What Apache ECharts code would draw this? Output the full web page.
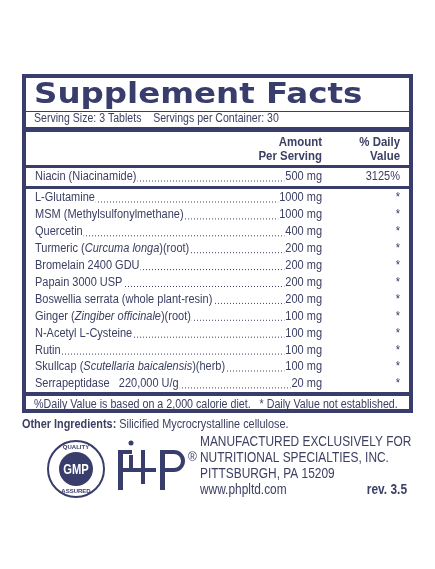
<!DOCTYPE html>
<html><head><meta charset="utf-8">
<script src="https://cdn.jsdelivr.net/npm/echarts@6/dist/echarts.min.js"></script>
<style>html,body{margin:0;background:#fff}#main{width:435px;height:569px}</style>
</head><body><div id="main"></div>
<script>
// ingredient rows (rich text: {i|...} = italic)
const names = [
  'L-Glutamine',
  'MSM (Methylsulfonylmethane)',
  'Quercetin',
  'Turmeric ({i|Curcuma longa})(root)',
  'Bromelain 2400 GDU',
  'Papain 3000 USP',
  'Boswellia serrata (whole plant-resin)',
  'Ginger ({i|Zingiber officinale})(root)',
  'N-Acetyl L-Cysteine',
  'Rutin',
  'Skullcap ({i|Scutellaria baicalensis})(herb)',
  'Serrapeptidase   220,000 U/g'
];
const amounts = ['1000 mg','1000 mg','400 mg','200 mg','200 mg','200 mg','200 mg','100 mg','100 mg','100 mg','100 mg','20 mg'];
const dailyValues = ['*','*','*','*','*','*','*','*','*','*','*','*'];
const topName = 'Niacin (Niacinamide)', topAmount = '500 mg', topDV = '3125%';

const NAVY = '#383d6b', TXT = '#3c4063';
const F = '"Liberation Sans", Arial, sans-serif';
const FS = '12.5px ';
const SX = 0.88; // condensed look
const chart = echarts.init(document.getElementById('main'), null, {renderer: 'canvas'});
const g = [];
const txt = (x, y, s, o, sx) => g.push({type: 'text', x, y, z: 5, scaleX: sx || SX, style: Object.assign({text: s, fill: TXT, font: FS + F, verticalAlign: 'middle'}, o || {})});
const rect = (x, y, w, h, c) => g.push({type: 'rect', shape: {x, y, width: w, height: h}, style: {fill: c || NAVY}, z: 3});
const L = 35, AR = 322, DR = 400;
function row(y, name, amt, dv) {
  g.push({type: 'line', z: 2, shape: {x1: L, y1: y + 4, x2: AR - 4, y2: y + 4}, style: {stroke: TXT, lineWidth: 1, lineDash: [1, 2]}});
  g.push({type: 'text', x: L, y, z: 5, scaleX: SX, style: {text: name, fill: TXT, font: FS + F, verticalAlign: 'middle', backgroundColor: '#fff', padding: [0, 1, 0, 0],
    rich: {i: {fontStyle: 'italic', fontSize: 12.5, fontFamily: F, fill: TXT}}}});
  txt(AR, y, amt, {align: 'right', backgroundColor: '#fff', padding: [0, 0, 0, 1]});
  txt(DR, y, dv, {align: 'right'});
}
// box
g.push({type: 'rect', z: 4, shape: {x: 24, y: 76, width: 387, height: 335}, style: {fill: 'none', stroke: NAVY, lineWidth: 4}});
txt(34, 96, 'Supplement Facts', {font: 'bold 28px "DejaVu Sans", Arial, sans-serif', fill: NAVY, letterSpacing: 1.5}, 1.16);
rect(24, 111, 387, 1);
txt(34, 119, 'Serving Size: 3 Tablets    Servings per Container: 30', {font: '12px ' + F});
rect(24, 127, 387, 5);
txt(AR, 142, 'Amount', {align: 'right', font: 'bold 13px ' + F});
txt(AR, 156, 'Per Serving', {align: 'right', font: 'bold 13px ' + F});
txt(DR, 142, '% Daily', {align: 'right', font: 'bold 13px ' + F});
txt(DR, 156, 'Value', {align: 'right', font: 'bold 13px ' + F});
rect(24, 165, 387, 3);
row(177, topName, topAmount, topDV);
rect(24, 186, 387, 3);
names.forEach((n, i) => row(198 + i * 16.9, n, amounts[i], dailyValues[i]));
rect(24, 392, 387, 4);
txt(34, 405, '%Daily Value is based on a 2,000 calorie diet.   * Daily Value not established.', {font: '12.5px ' + F}, 0.855);
txt(22, 425, '', {text: '{b|Other Ingredients:} Silicified Mycrocrystalline cellulose.', font: '12.5px ' + F,
  rich: {b: {fontWeight: 'bold', fontSize: 12.5, fontFamily: F, fill: TXT}}}, 0.87);
// GMP seal
g.push({type: 'circle', shape: {cx: 76, cy: 469, r: 28}, style: {fill: '#fff', stroke: NAVY, lineWidth: 2}});
g.push({type: 'circle', shape: {cx: 76, cy: 469, r: 17}, style: {fill: NAVY}});
txt(76, 470, 'GMP', {align: 'center', fill: '#fff', font: 'bold 14px ' + F}, 0.8);
txt(76, 447, 'QUALITY', {align: 'center', font: 'bold 6px ' + F, fill: NAVY}, 1);
txt(76, 491, 'ASSURED', {align: 'center', font: 'bold 6px ' + F, fill: NAVY}, 1);
// PhP mark
const P = NAVY;
rect(118, 450, 5, 40, P); rect(118, 450, 14, 4, P);
g.push({type: 'circle', shape: {cx: 131, cy: 443, r: 2.5}, style: {fill: P}});
rect(129, 455, 4, 14, P); rect(118, 468, 38, 4, P);
rect(141, 450, 4, 34, P);
rect(160, 450, 5, 40, P);
g.push({type: 'rect', shape: {x: 163, y: 452, width: 20, height: 18, r: [0, 10, 10, 0]}, style: {fill: 'none', stroke: P, lineWidth: 4}});
txt(188, 458, '®', {font: '12px Arial, sans-serif', fill: P}, 1);
txt(200, 442, 'MANUFACTURED EXCLUSIVELY FOR', {font: '14px ' + F}, 0.85);
txt(200, 458, 'NUTRITIONAL SPECIALTIES, INC.', {font: '14px ' + F}, 0.85);
txt(200, 474, 'PITTSBURGH, PA 15209', {font: '14px ' + F}, 0.85);
txt(200, 490, 'www.phpltd.com', {font: '14px ' + F}, 0.85);
txt(407, 490, 'rev. 3.5', {align: 'right', font: 'bold 14px ' + F}, 0.85);
chart.setOption({animation: false, graphic: g});
</script></body></html>
